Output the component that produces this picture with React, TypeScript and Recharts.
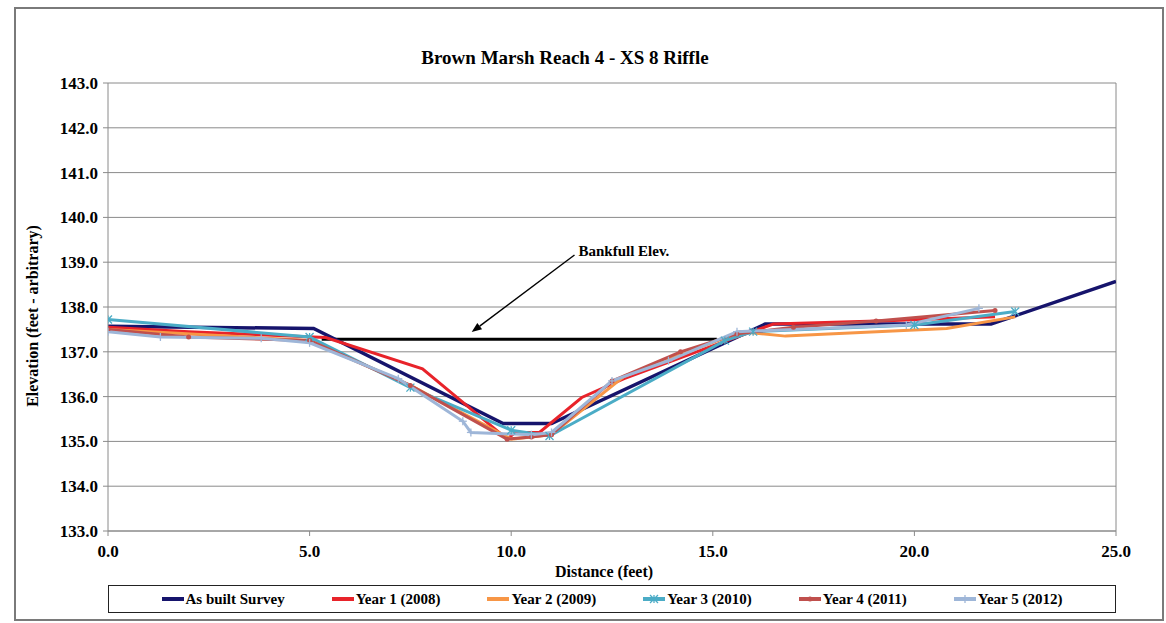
import {
  LineChart,
  Line,
  XAxis,
  YAxis,
  CartesianGrid,
  ReferenceLine,
} from "recharts";

// Cross-section survey points: [distance (ft), elevation (ft)]
const asBuilt = [
  [0, 137.57], [5.1, 137.52], [9.8, 135.4], [11.0, 135.4], [16.3, 137.62],
  [21.9, 137.62], [25, 138.57],
];
const year1 = [
  [0, 137.55], [2.0, 137.45], [5.4, 137.32], [7.8, 136.62], [9.9, 135.05],
  [10.1, 135.2], [10.7, 135.2], [11.75, 135.98], [12.8, 136.4], [15.5, 137.3],
  [16.5, 137.62], [19.5, 137.7], [22.0, 137.78],
];
const year2 = [
  [0, 137.5], [5.0, 137.25], [7.5, 136.25], [10.0, 135.05], [10.5, 135.1],
  [11.0, 135.15], [12.8, 136.45], [15.7, 137.45], [16.8, 137.35], [20.8, 137.52],
  [22.5, 137.78],
];
const year3 = [
  [0, 137.72], [5.0, 137.33], [7.5, 136.2], [10.0, 135.25], [10.95, 135.12],
  [15.3, 137.25], [16.0, 137.45], [20.0, 137.6], [22.5, 137.9],
];
const year4 = [
  [0, 137.5], [2.0, 137.33], [5.0, 137.25], [7.5, 136.25], [9.9, 135.05],
  [10.5, 135.1], [11.0, 135.15], [12.5, 136.35], [14.2, 137.0], [15.6, 137.4],
  [17.0, 137.55], [19.05, 137.69], [22.0, 137.92],
];
const year5 = [
  [0, 137.45], [1.3, 137.33], [3.8, 137.3], [5.0, 137.2], [7.2, 136.4],
  [8.8, 135.45], [9.0, 135.2], [10.5, 135.15], [11.0, 135.2], [12.5, 136.35],
  [13.9, 136.8], [15.6, 137.45], [19.8, 137.6], [21.6, 137.97],
];

const bankfull = [[5.3, 137.28], [15.1, 137.28]];
const arrowFrom = [11.57, 139.16];
const arrowTo = [9.02, 137.44];

const xTicks = [0, 5, 10, 15, 20, 25];
const yTicks = [133, 134, 135, 136, 137, 138, 139, 140, 141, 142, 143];

const FONT = "Liberation Serif, Tinos, Times New Roman, DejaVu Serif, serif";

const toPts = (arr: number[][]) => arr.map(([x, y]) => ({ x, y }));

const Asterisk = (p: any) => {
  const { cx, cy, stroke } = p;
  if (cx == null || cy == null) return null;
  const r = 4;
  return (
    <g stroke={stroke} strokeWidth={1.3}>
      <line x1={cx} y1={cy - r} x2={cx} y2={cy + r} />
      <line x1={cx - r} y1={cy - r} x2={cx + r} y2={cy + r} />
      <line x1={cx - r} y1={cy + r} x2={cx + r} y2={cy - r} />
    </g>
  );
};

const Plus = (p: any) => {
  const { cx, cy, stroke } = p;
  if (cx == null || cy == null) return null;
  const r = 4;
  return (
    <g stroke={stroke} strokeWidth={1.3}>
      <line x1={cx - r} y1={cy} x2={cx + r} y2={cy} />
      <line x1={cx} y1={cy - r} x2={cx} y2={cy + r} />
    </g>
  );
};

const Circle = (p: any) => {
  const { cx, cy, stroke } = p;
  if (cx == null || cy == null) return null;
  return <circle cx={cx} cy={cy} r={2.5} fill={stroke} />;
};

const SERIES = [
  { name: "As built Survey", data: asBuilt, color: "#16146c", width: 3.5, marker: null },
  { name: "Year 1 (2008)", data: year1, color: "#e8232a", width: 3, marker: null },
  { name: "Year 2 (2009)", data: year2, color: "#f79646", width: 3, marker: null },
  { name: "Year 3 (2010)", data: year3, color: "#4bacc6", width: 3, marker: "asterisk" },
  { name: "Year 4 (2011)", data: year4, color: "#c0504d", width: 3, marker: "circle" },
  { name: "Year 5 (2012)", data: year5, color: "#9eb6d8", width: 3, marker: "plus" },
];

const dotFor = (m: string | null) => {
  if (m === "asterisk") return <Asterisk />;
  if (m === "plus") return <Plus />;
  if (m === "circle") return <Circle />;
  return false;
};

const Arrow = (p: any) => {
  const { x1, y1, x2, y2 } = p;
  const ang = Math.atan2(y2 - y1, x2 - x1);
  const L = 10;
  const W = 4;
  const bx = x2 - L * Math.cos(ang);
  const by = y2 - L * Math.sin(ang);
  const pts = `${x2},${y2} ${bx + W * Math.sin(ang)},${by - W * Math.cos(ang)} ${bx - W * Math.sin(ang)},${by + W * Math.cos(ang)}`;
  return (
    <g>
      <line x1={x1} y1={y1} x2={bx} y2={by} stroke="#000" strokeWidth={1.4} />
      <polygon points={pts} fill="#000" />
      <text x={x1 + 4} y={y1 + 1} fontFamily={FONT} fontWeight="bold" fontSize={15} fill="#000">
        Bankfull Elev.
      </text>
    </g>
  );
};

const LegendMark = ({ color, marker }: { color: string; marker: string | null }) => (
  <svg width={22} height={12} style={{ marginRight: 2 }}>
    <line x1={0} y1={6} x2={22} y2={6} stroke={color} strokeWidth={4} />
    {marker === "asterisk" && <Asterisk cx={11} cy={6} stroke={color} />}
    {marker === "plus" && <Plus cx={11} cy={6} stroke={color} />}
    {marker === "circle" && <Circle cx={11} cy={6} stroke={color} />}
  </svg>
);

export default function App() {
  return (
    <div style={{ position: "absolute", left: 0, top: 0, width: 1166, height: 623, background: "#fff", fontFamily: FONT }}>
      <div style={{ position: "absolute", left: 14, top: 7, width: 1146, height: 610, border: "2px solid #7a7a7a" }} />
      <div style={{ position: "absolute", left: 0, top: 47, width: 1130, textAlign: "center", fontWeight: "bold", fontSize: 19 }}>
        Brown Marsh Reach 4 - XS 8 Riffle
      </div>
      <div style={{ position: "absolute", left: 0, top: 0 }}>
        <LineChart width={1166} height={623} margin={{ top: 83, right: 50, bottom: 62, left: 48 }}>
          <CartesianGrid vertical={false} stroke="#8a8a8a" strokeWidth={1} />
          <XAxis
            type="number"
            dataKey="x"
            domain={[0, 25]}
            ticks={xTicks}
            allowDataOverflow
            height={30}
            tickSize={5}
            tickMargin={9}
            tickFormatter={(v: number) => v.toFixed(1)}
            tick={{ fill: "#000", fontSize: 17, fontWeight: "bold", fontFamily: FONT }}
            axisLine={{ stroke: "#8a8a8a" }}
            tickLine={{ stroke: "#8a8a8a" }}
            label={{
              content: () => (
                <text x={604} y={577} textAnchor="middle" fontFamily={FONT} fontWeight="bold" fontSize={16} fill="#000">
                  Distance (feet)
                </text>
              ),
            }}
          />
          <YAxis
            type="number"
            domain={[133, 143]}
            ticks={yTicks}
            width={60}
            tickSize={5}
            tickMargin={5}
            tickFormatter={(v: number) => v.toFixed(1)}
            tick={{ fill: "#000", fontSize: 17, fontWeight: "bold", fontFamily: FONT }}
            axisLine={{ stroke: "#8a8a8a" }}
            tickLine={{ stroke: "#8a8a8a" }}
            label={{
              content: () => (
                <text
                  x={32}
                  y={316}
                  transform="rotate(-90, 32, 316)"
                  textAnchor="middle"
                  dominantBaseline="central"
                  fontFamily={FONT}
                  fontWeight="bold"
                  fontSize={16}
                  fill="#000"
                >
                  Elevation (feet - arbitrary)
                </text>
              ),
            }}
          />
          <ReferenceLine x={25} stroke="#8a8a8a" />
          <Line
            data={toPts(bankfull)}
            dataKey="y"
            stroke="#000"
            strokeWidth={3}
            dot={false}
            isAnimationActive={false}
            legendType="none"
          />
          {SERIES.map((s) => (
            <Line
              key={s.name}
              name={s.name}
              data={toPts(s.data)}
              dataKey="y"
              stroke={s.color}
              strokeWidth={s.width}
              dot={dotFor(s.marker)}
              activeDot={false}
              isAnimationActive={false}
            />
          ))}
          <ReferenceLine
            segment={[
              { x: arrowFrom[0], y: arrowFrom[1] },
              { x: arrowTo[0], y: arrowTo[1] },
            ]}
            ifOverflow="visible"
            shape={Arrow}
          />
        </LineChart>
      </div>
      <div
        style={{
          position: "absolute",
          left: 108,
          top: 585,
          width: 1006,
          height: 26,
          border: "1.5px solid #222",
          display: "flex",
          alignItems: "center",
          justifyContent: "center",
          gap: 47,
          fontWeight: "bold",
          fontSize: 15,
        }}
      >
        {SERIES.map((s) => (
          <div key={s.name} style={{ display: "flex", alignItems: "center", whiteSpace: "nowrap" }}>
            <LegendMark color={s.color} marker={s.marker} />
            <span>{s.name}</span>
          </div>
        ))}
      </div>
    </div>
  );
}
